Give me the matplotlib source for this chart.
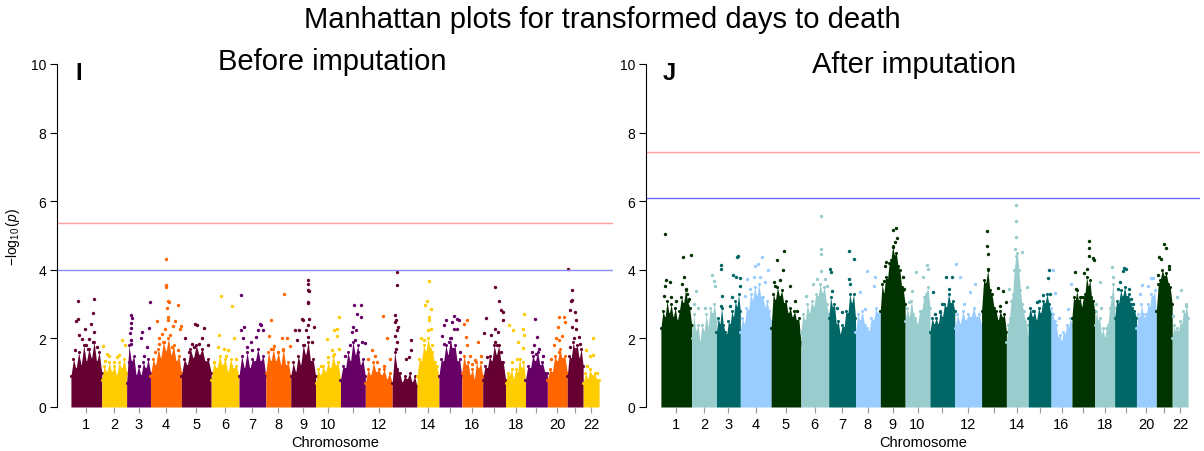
import numpy as np
import matplotlib
matplotlib.use('Agg')
import matplotlib.pyplot as plt

plt.rcParams['font.family'] = ['Liberation Sans', 'DejaVu Sans']
plt.rcParams['mathtext.fontset'] = 'custom'
plt.rcParams['mathtext.rm'] = 'Liberation Sans'
plt.rcParams['mathtext.it'] = 'Liberation Sans:italic'

# relative width of each chromosome block on the x axis
chrom_widths = [31, 25, 24, 31, 30, 28, 27, 25, 25, 25, 25, 27, 25, 22, 23, 21, 23, 20, 22, 20, 16, 16]
chrom_labels = ['1', '2', '3', '4', '5', '6', '7', '8', '9', '10', '', '12', '', '14', '', '16', '', '18', '', '20', '', '22']

before_colors = ['#660033', '#ffcc00', '#660066', '#ff6600']
after_colors = ['#003300', '#99cccc', '#006666', '#99ccff']

# significance lines (-log10 p)
before_lines = [5.36, 4.0]
after_lines = [7.43, 6.08]

# Before imputation: outline of the dense cloud per chromosome
before_body = [
    [0.9, 1.4, 1.1, 1.6, 1.2, 1.8, 1.3, 1.7, 1.4, 1.9, 1.3, 1.6, 1.0],
    [0.8, 1.2, 1.0, 1.3, 1.0, 1.2, 0.9, 1.3, 1.1, 1.4, 1.0],
    [0.7, 1.8, 1.3, 1.5, 0.9, 1.2, 0.9, 1.3, 1.1, 1.4, 1.0],
    [0.9, 1.4, 1.2, 1.7, 1.4, 1.9, 1.6, 2.0, 1.5, 1.8, 1.3, 1.5, 1.0],
    [0.9, 1.4, 1.2, 1.7, 1.4, 1.8, 1.5, 1.7, 1.3, 1.4, 1.0],
    [0.8, 1.3, 1.1, 1.5, 1.2, 1.4, 1.0, 1.4, 1.1, 1.2, 0.9],
    [0.9, 1.5, 1.1, 1.6, 1.1, 1.4, 1.3, 1.7, 1.3, 1.5, 0.9],
    [1.0, 1.6, 1.3, 1.7, 1.3, 1.6, 1.2, 1.7, 1.2, 1.3, 0.9],
    [0.9, 1.3, 1.0, 1.5, 1.2, 1.8, 1.5, 1.9, 1.3, 1.4, 0.9],
    [0.7, 1.1, 0.9, 1.2, 1.0, 1.3, 1.1, 1.5, 1.2, 1.3, 0.8],
    [0.8, 1.2, 1.1, 1.6, 1.3, 1.9, 1.5, 1.8, 1.2, 1.4, 0.9],
    [0.7, 1.1, 0.9, 1.3, 1.0, 1.1, 0.9, 1.1, 0.8, 1.0, 0.7],
    [0.7, 1.6, 1.1, 1.0, 0.7, 0.9, 0.8, 1.0, 0.7, 0.9, 0.6],
    [0.9, 1.4, 1.3, 1.8, 1.6, 2.0, 1.7, 1.6, 1.3, 1.2, 0.9],
    [0.9, 1.4, 1.3, 1.8, 1.5, 2.0, 1.6, 1.8, 1.3, 1.4, 0.9],
    [1.0, 1.5, 1.2, 1.3, 0.9, 1.1, 0.8, 1.3, 1.1, 1.3, 0.9],
    [0.8, 1.2, 1.1, 1.5, 1.3, 1.8, 1.5, 1.8, 1.3, 1.3, 0.8],
    [0.7, 1.0, 0.9, 1.1, 0.8, 1.1, 1.0, 1.4, 1.1, 1.3, 0.8],
    [0.8, 1.2, 1.1, 1.5, 1.3, 1.6, 1.2, 1.3, 1.0, 1.0],
    [0.8, 1.1, 1.0, 1.5, 1.3, 1.7, 1.4, 1.5, 1.0],
    [0.9, 1.5, 1.4, 1.9, 1.6, 1.8, 1.4, 1.7, 1.2],
    [0.7, 1.0, 0.8, 1.1, 0.9, 1.0, 0.8, 0.8],
]

# Before imputation: single SNPs standing out above the cloud (position in chromosome, value)
before_peaks = [
    [(0.22, 3.09), (0.75, 3.16), (0.16, 2.5), (0.24, 2.58), (0.72, 2.75), (0.65, 2.43), (0.46, 2.26), (0.76, 2.2),
     (0.27, 2.1), (0.35, 1.98), (0.60, 1.97), (0.70, 1.9), (0.48, 1.8), (0.12, 1.65), (0.85, 1.75), (0.55, 1.7)],
    [(0.07, 1.78), (0.2, 1.55), (0.3, 1.5), (0.7, 1.53), (0.83, 1.94), (0.93, 1.8), (0.5, 1.3), (0.6, 1.45), (0.15, 1.35)],
    [(0.2, 2.69), (0.22, 2.6), (0.18, 2.45), (0.2, 2.3), (0.15, 2.15), (0.17, 1.95), (0.2, 1.85), (0.64, 2.2),
     (0.96, 3.06), (0.93, 2.3), (0.6, 2.0), (0.87, 1.75), (0.73, 1.5), (0.5, 1.2), (0.1, 1.3)],
    [(0.51, 4.32), (0.51, 3.55), (0.5, 3.5), (0.58, 3.1), (0.6, 3.06), (0.53, 2.89), (0.58, 2.62), (0.58, 2.53),
     (0.88, 2.96), (0.21, 2.5), (0.81, 2.5), (0.98, 2.36), (0.95, 2.28), (0.74, 2.36), (0.47, 2.28), (0.37, 2.14),
     (0.26, 2.0), (0.63, 2.09), (0.26, 1.85), (0.45, 1.9), (0.7, 1.75), (0.15, 1.6), (0.9, 1.65)],
    [(0.47, 2.43), (0.53, 2.4), (0.76, 2.3), (0.68, 2.0), (0.35, 1.85), (0.12, 2.0), (0.41, 1.75), (0.9, 1.8),
     (0.6, 1.85), (0.25, 1.6)],
    [(0.36, 3.23), (0.75, 2.94), (0.28, 2.09), (0.26, 1.75), (0.45, 1.7), (0.62, 1.65), (0.82, 2.0), (0.55, 1.5),
     (0.9, 1.4), (0.1, 1.3)],
    [(0.09, 3.26), (0.06, 2.24), (0.2, 2.33), (0.77, 2.43), (0.83, 2.4), (0.7, 2.24), (0.89, 2.25), (0.46, 1.9),
     (0.15, 2.0), (0.64, 2.04), (0.3, 1.75), (0.5, 1.65)],
    [(0.73, 3.3), (0.19, 2.53), (0.11, 2.07), (0.66, 2.0), (0.86, 2.0), (0.32, 1.78), (0.99, 1.77), (0.5, 1.6),
     (0.2, 1.7), (0.7, 1.65)],
    [(0.68, 3.71), (0.68, 3.6), (0.68, 3.42), (0.74, 3.37), (0.7, 3.06), (0.68, 3.03), (0.45, 2.58), (0.49, 2.53),
     (0.74, 2.58), (0.94, 2.33), (0.35, 2.25), (0.18, 2.24), (0.61, 2.24), (0.68, 2.4), (0.26, 1.94), (0.55, 1.8),
     (0.7, 2.04), (0.85, 1.9)],
    [(0.93, 2.62), (0.87, 2.28), (0.73, 2.25), (0.44, 1.97), (0.87, 2.07), (0.64, 1.65), (0.93, 1.7), (0.2, 1.2),
     (0.5, 1.45), (0.75, 1.55)],
    [(0.53, 2.96), (0.84, 2.96), (0.67, 2.72), (0.83, 2.62), (0.51, 2.33), (0.64, 2.24), (0.47, 2.2), (0.87, 1.9),
     (1.0, 1.87), (0.4, 1.8), (0.6, 1.94), (0.2, 1.5), (0.7, 1.6)],
    [(0.65, 2.64), (0.82, 2.01), (0.26, 1.67), (0.1, 1.4), (0.9, 1.4), (0.45, 1.3), (0.7, 1.2), (0.35, 1.5)],
    [(0.19, 3.94), (0.19, 3.57), (0.13, 2.67), (0.17, 2.53), (0.1, 2.48), (0.23, 2.33), (0.21, 2.24), (0.13, 2.07),
     (0.74, 1.94), (0.77, 1.65), (0.68, 1.46), (0.55, 1.4), (0.2, 1.9), (0.15, 1.7)],
    [(0.56, 3.67), (0.45, 3.09), (0.35, 2.96), (0.65, 2.85), (0.56, 2.62), (0.56, 2.53), (0.65, 2.28), (0.48, 2.25),
     (0.32, 1.94), (0.16, 2.0), (0.7, 1.8), (0.4, 1.6)],
    [(0.29, 2.55), (0.66, 2.64), (0.78, 2.58), (0.88, 2.53), (0.59, 2.48), (0.22, 2.38), (0.12, 2.07), (0.66, 2.28),
     (0.81, 2.28), (0.51, 2.0), (0.44, 1.9), (0.22, 1.85), (0.6, 1.7), (0.9, 1.6)],
    [(0.25, 2.53), (0.1, 2.43), (0.18, 2.04), (0.25, 1.8), (0.78, 1.9), (0.63, 1.36), (0.4, 1.5), (0.9, 1.5),
     (0.5, 1.25)],
    [(0.55, 3.5), (0.72, 3.08), (0.82, 2.82), (0.9, 2.77), (0.15, 2.6), (0.9, 2.53), (0.55, 2.28), (0.67, 2.2),
     (0.05, 2.16), (0.55, 1.9), (0.64, 1.8), (0.37, 2.09), (0.2, 1.46), (0.8, 1.6)],
    [(0.93, 2.72), (0.17, 2.38), (0.38, 2.24), (0.88, 2.28), (0.93, 2.09), (0.63, 1.9), (0.55, 1.4), (0.88, 1.72),
     (0.3, 1.3)],
    [(0.44, 2.58), (0.52, 2.04), (0.37, 1.8), (0.6, 1.7), (0.29, 1.6), (0.79, 1.5), (0.5, 1.55)],
    [(0.82, 2.62), (0.61, 2.62), (0.88, 2.48), (0.53, 2.33), (0.44, 2.0), (0.75, 2.07), (0.35, 1.8), (0.58, 1.94),
     (0.61, 1.6), (0.2, 1.4)],
    [(0.06, 4.01), (0.33, 3.4), (0.21, 3.08), (0.33, 3.11), (0.17, 2.82), (0.48, 2.77), (0.54, 2.53), (0.27, 2.33),
     (0.58, 2.28), (0.75, 2.04), (0.42, 2.0), (0.79, 1.85), (0.54, 1.7), (0.17, 1.75)],
    [(0.6, 2.0), (0.17, 1.65), (0.64, 1.53), (0.43, 1.5), (0.21, 1.2), (0.85, 1.0)],
]

# After imputation: outline of the dense cloud per chromosome
after_body = [
    [2.3, 2.8, 2.6, 3.1, 2.7, 3.0, 2.6, 2.9, 2.5, 2.8, 3.2, 3.0, 3.4, 3.1, 2.9, 2.4],
    [2.0, 2.7, 2.2, 2.4, 1.9, 2.4, 2.2, 2.7, 2.3, 2.9, 2.7, 3.0, 2.5],
    [2.2, 2.6, 2.4, 2.9, 2.4, 2.2, 2.1, 2.5, 2.4, 2.8, 2.6, 3.1, 2.9, 3.3, 2.8],
    [2.2, 2.6, 2.4, 2.9, 2.8, 3.3, 3.1, 3.5, 3.2, 3.6, 3.2, 3.2, 2.9, 3.1, 2.8, 2.5],
    [2.3, 3.3, 3.1, 3.5, 3.2, 3.4, 3.0, 3.1, 2.7, 2.9, 2.6, 2.8, 2.5, 2.6, 1.9],
    [2.2, 2.7, 2.5, 3.0, 2.7, 3.1, 2.9, 3.3, 3.2, 3.6, 3.3, 3.5, 3.0, 2.7],
    [2.6, 3.2, 2.9, 3.0, 2.4, 2.5, 2.1, 2.4, 2.3, 2.8, 2.7, 3.3, 3.0, 3.3, 2.6],
    [2.2, 2.7, 2.5, 2.8, 2.4, 2.3, 2.2, 2.6, 2.5, 2.9, 2.7, 2.8],
    [2.8, 3.6, 3.3, 3.8, 3.7, 4.2, 4.3, 4.7, 4.4, 4.5, 4.1, 4.0, 3.5, 3.4, 3.0],
    [2.5, 2.9, 2.6, 3.1, 2.7, 2.6, 2.4, 2.8, 2.8, 3.2, 3.3, 3.5, 2.9],
    [2.2, 2.6, 2.4, 2.6, 2.4, 2.8, 2.6, 3.0, 2.9, 3.3, 3.0, 3.1, 2.8],
    [2.3, 2.7, 2.4, 2.8, 2.5, 2.7, 2.6, 2.9, 2.6, 2.7, 2.4],
    [2.8, 3.7, 3.6, 4.0, 3.4, 3.3, 2.9, 2.8, 2.5, 2.8, 2.6, 2.7, 2.2],
    [1.9, 2.4, 2.6, 3.1, 3.3, 4.0, 4.4, 4.5, 4.0, 3.4, 3.0, 2.8, 2.5, 2.4, 2.0],
    [2.6, 2.9, 2.6, 2.8, 2.5, 2.9, 2.7, 3.1, 3.0, 3.3, 3.0, 2.7],
    [2.9, 2.7, 2.5, 2.4, 2.0, 2.1, 1.9, 2.2, 2.1, 2.4, 2.3, 2.6, 2.4],
    [2.6, 3.2, 3.1, 3.4, 3.1, 3.2, 2.9, 3.2, 3.3, 3.8, 3.5, 3.7, 3.2, 3.1, 2.8],
    [2.4, 2.8, 2.5, 2.6, 2.1, 2.3, 2.0, 2.3, 2.4, 2.9, 3.2, 3.6, 2.9],
    [2.6, 3.1, 3.0, 3.4, 3.2, 3.5, 3.2, 3.3, 3.0, 2.9, 2.8, 2.6],
    [2.3, 2.7, 2.6, 3.0, 2.7, 2.6, 2.7, 3.0, 2.9, 3.3, 3.2, 3.4, 2.8],
    [2.8, 3.6, 3.7, 4.0, 3.8, 3.9, 3.6, 3.5, 3.0],
    [2.0, 2.4, 2.2, 2.3, 2.2, 2.5, 2.4, 2.8, 2.7, 3.0, 2.6],
]

after_peaks = [
    [(0.13, 5.04), (0.72, 4.38), (0.99, 4.44), (0.75, 3.78), (0.16, 3.71), (0.31, 3.63), (0.13, 3.54), (0.7, 3.59),
     (0.85, 3.3), (0.34, 3.2), (0.1, 3.25), (0.81, 3.44), (0.92, 3.15), (0.5, 3.1)],
    [(0.82, 3.85), (0.89, 3.68), (0.96, 3.54), (0.19, 3.39), (0.54, 2.9), (0.26, 2.9), (0.1, 3.0)],
    [(0.21, 4.14), (0.21, 4.02), (0.89, 4.41), (0.86, 4.36), (0.69, 3.86), (0.83, 3.78), (1.0, 3.75), (0.97, 3.54),
     (0.24, 3.25), (0.65, 3.2), (0.2, 2.95), (0.58, 2.95)],
    [(0.48, 4.1), (0.56, 4.17), (0.7, 4.36), (0.91, 4.0), (0.22, 3.73), (0.43, 3.78), (0.65, 3.78), (0.81, 3.63),
     (0.3, 3.44), (0.16, 3.25)],
    [(0.2, 4.29), (0.43, 4.56), (0.4, 4.0), (0.63, 3.54), (0.79, 3.1), (0.1, 3.63), (0.14, 3.54), (0.86, 2.81),
     (0.98, 1.85), (0.3, 3.7)],
    [(0.72, 5.58), (0.72, 4.6), (0.74, 4.46), (0.74, 3.97), (0.86, 3.73), (0.59, 3.73), (0.43, 3.59), (0.93, 3.54),
     (0.19, 3.25)],
    [(0.06, 4.02), (0.1, 3.93), (0.12, 3.39), (0.76, 4.56), (0.93, 4.31), (0.76, 3.73), (0.79, 3.59), (0.49, 2.76),
     (0.3, 2.9)],
    [(0.45, 3.97), (0.77, 3.78), (0.18, 3.34), (0.73, 3.54), (0.38, 2.86)],
    [(0.63, 5.21), (0.53, 5.16), (0.68, 4.92), (0.59, 4.8), (0.53, 4.66), (0.21, 4.24), (0.17, 4.1), (0.91, 3.78),
     (0.14, 3.68), (0.97, 3.44)],
    [(0.42, 3.93), (0.88, 4.14), (0.91, 4.02), (0.29, 3.39), (0.74, 3.78), (0.17, 3.05)],
    [(0.65, 3.8), (0.9, 3.8), (0.76, 3.44), (0.14, 3.34), (0.49, 3.0), (0.21, 2.71), (0.42, 2.76)],
    [(0.06, 4.17), (0.21, 3.78), (0.74, 3.59), (0.36, 3.0), (0.55, 3.34)],
    [(0.2, 5.14), (0.2, 4.7), (0.24, 4.46), (0.27, 4.02), (0.67, 3.47), (0.87, 3.39), (0.73, 2.95), (1.0, 3.05)],
    [(0.42, 5.89), (0.45, 5.41), (0.42, 4.95), (0.38, 4.61), (0.73, 4.53), (0.94, 3.49), (0.12, 3.44)],
    [(0.9, 4.0), (0.86, 3.76), (0.64, 3.27), (0.96, 3.3), (0.49, 3.1), (0.2, 2.81), (0.39, 3.05)],
    [(0.08, 4.0), (0.21, 3.33), (0.95, 3.59), (0.79, 2.86), (0.4, 2.6)],
    [(0.75, 4.83), (0.75, 4.65), (0.75, 4.41), (0.93, 4.33), (0.97, 4.29), (0.14, 3.93), (0.54, 3.91), (0.68, 4.02),
     (0.17, 3.44), (0.39, 3.2)],
    [(0.87, 4.07), (0.25, 3.65), (0.33, 2.9), (0.05, 3.0), (0.92, 3.78)],
    [(0.45, 4.04), (0.38, 3.97), (0.53, 4.02), (0.23, 3.63), (0.15, 3.44), (0.64, 3.44), (0.76, 3.15), (0.83, 3.0)],
    [(0.27, 3.56), (0.73, 3.75), (0.57, 3.54), (0.18, 3.3), (0.85, 3.75)],
    [(0.49, 4.75), (0.58, 4.65), (0.2, 4.36), (0.31, 4.31), (0.82, 4.12), (0.8, 4.02), (0.09, 3.85)],
    [(0.55, 3.41), (0.29, 3.2), (0.84, 2.95), (0.08, 2.66)],
]

widths = np.array(chrom_widths, dtype=float)
starts = np.concatenate([[0], np.cumsum(widths)[:-1]])
centers = starts + widths / 2


def plotPanel(ax, body, peaks, colors, lines, line_colors, letter, letter_x, subtitle, xlim, sub_pos):
    for i in range(len(widths)):
        col = colors[i % 4]
        env = np.array(body[i])
        xs = starts[i] + np.linspace(0, widths[i], len(env))
        ax.fill_between(xs, 0, env, color=col, lw=0)
        ax.scatter(xs, env, s=5, color=col, lw=0)
        pk = np.array(peaks[i])
        ax.scatter(starts[i] + pk[:, 0] * widths[i], pk[:, 1], s=6, color=col, lw=0)

    ax.axhline(lines[0], color=line_colors[0], lw=1)
    ax.axhline(lines[1], color=line_colors[1], lw=1)

    ax.set_xlim(xlim)
    ax.set_ylim(0, 10)
    ax.set_yticks([0, 2, 4, 6, 8, 10])
    ax.set_xticks(centers)
    ax.set_xticklabels(chrom_labels)
    ax.tick_params(axis='x', length=4, color='#999999', labelsize=10.5, pad=3)
    ax.tick_params(axis='y', length=5, labelsize=10, pad=3)

    # clean up like R base graphics
    ax.spines['top'].set_visible(False)
    ax.spines['right'].set_visible(False)
    ax.spines['bottom'].set_visible(False)
    ax.spines['left'].set_bounds(0, 10)

    ax.set_xlabel('Chromosome', fontsize=10.5, labelpad=3)
    ax.text(letter_x, 0.975, letter, transform=ax.transAxes, fontsize=17, fontweight='bold', va='center', ha='left')
    ax.text(sub_pos[0], sub_pos[1], subtitle, transform=ax.transAxes, fontsize=21, va='center', ha='center')


fig = plt.figure(figsize=(12.04, 4.52), dpi=100)
ax1 = fig.add_axes([57 / 1204, 44 / 452, 556 / 1204, 343 / 452])
ax2 = fig.add_axes([646 / 1204, 44 / 452, 554 / 1204, 343 / 452])

plotPanel(ax1, before_body, before_peaks, before_colors, before_lines, ['#ff9e9e', '#8c8cff'],
          'I', 0.033, 'Before imputation', (-14, 545), (0.495, 1.01))
plotPanel(ax2, after_body, after_peaks, after_colors, after_lines, ['#ff9e9e', '#6b6bff'],
          'J', 0.03, 'After imputation', (-15, 543), (0.484, 1.0))

ax1.set_ylabel(r'$-\log_{10}(p)$', fontsize=10, labelpad=6)

fig.text(0.5, 1 - 20 / 452, 'Manhattan plots for transformed days to death', fontsize=21, ha='center', va='center')

fig.savefig('out.png', dpi=100)
